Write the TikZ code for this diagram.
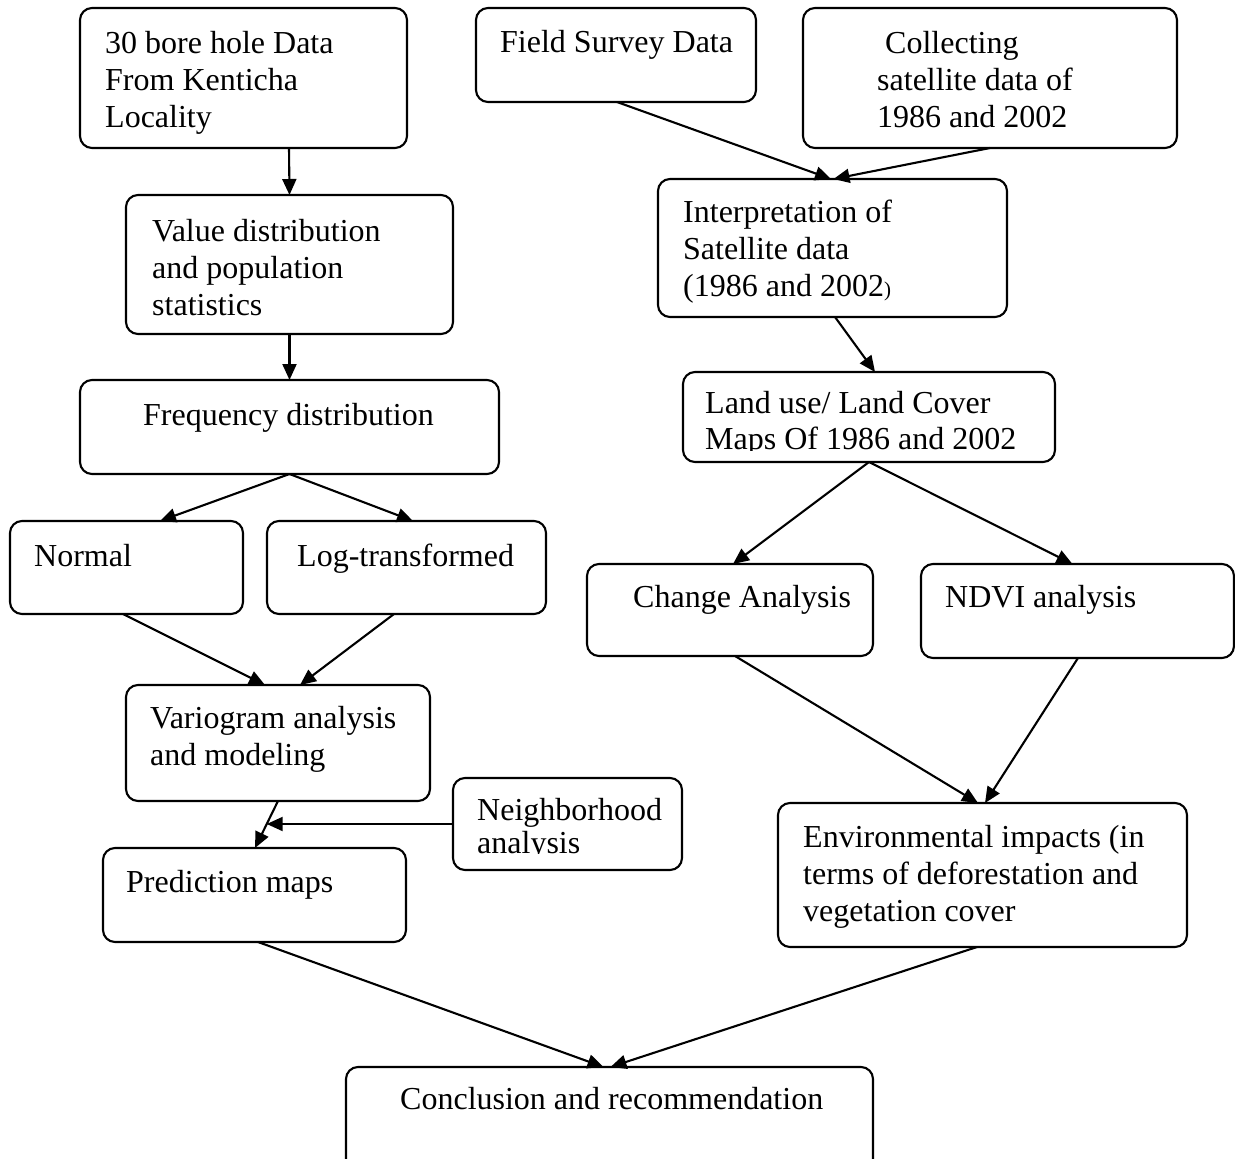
\documentclass[tikz,border=0pt]{standalone}
\usepackage{fontspec}
\setmainfont{Liberation Serif}
\usetikzlibrary{arrows.meta,calc}
\newcommand\tstrut{\rule{0pt}{24pt}}
\begin{document}
\begin{tikzpicture}[x=1pt,y=-1pt,
  flowbox/.style={draw, line width=2.1pt, rounded corners=12pt, inner sep=0pt, outer sep=0pt},
  txt/.style={anchor=north west, inner sep=0pt, align=left, font=\fontsize{32}{37}\selectfont},
  conn/.style={line width=2.1pt, -{Triangle[length=16pt,width=14pt]}}]
\path[use as bounding box] (0,0) rectangle (1235,1159);
\clip (0,0) rectangle (1235,1159);
% boxes
\node[flowbox, minimum width=327pt, minimum height=140pt] (b1) at (243.5,78) {};
\node[flowbox, minimum width=327pt, minimum height=139pt] (b2) at (289.5,264.5) {};
\node[flowbox, minimum width=419pt, minimum height=94pt] (b3) at (289.5,427) {};
\node[flowbox, minimum width=233pt, minimum height=93pt] (b4) at (126.5,567.5) {};
\node[flowbox, minimum width=279pt, minimum height=93pt] (b5) at (406.5,567.5) {};
\node[flowbox, minimum width=304pt, minimum height=116pt] (b6) at (278,743) {};
\node[flowbox, minimum width=229pt, minimum height=92pt] (b7) at (567.5,824) {};
\node[flowbox, minimum width=303pt, minimum height=94pt] (b8) at (254.5,895) {};
\node[flowbox, minimum width=280pt, minimum height=94pt] (b9) at (616,55) {};
\node[flowbox, minimum width=374pt, minimum height=140pt] (b10) at (990,78) {};
\node[flowbox, minimum width=349pt, minimum height=138pt] (b11) at (832.5,248) {};
\node[flowbox, minimum width=372pt, minimum height=90pt] (b12) at (869,417) {};
\node[flowbox, minimum width=286pt, minimum height=92pt] (b13) at (730,610) {};
\node[flowbox, minimum width=313pt, minimum height=94pt] (b14) at (1077.5,611) {};
\node[flowbox, minimum width=409pt, minimum height=144pt] (b15) at (982.5,875) {};
\node[flowbox, minimum width=527pt, minimum height=133pt] (b16) at (609.5,1133.5) {};
% texts
\node[txt] (t1) at (105,29) {\tstrut 30 bore hole Data\\From Kenticha\\Locality};
\node[txt] (t2) at (152,217) {\tstrut Value distribution\\and population\\statistics};
\node[txt] (t3) at (143,401) {\tstrut Frequency distribution};
\node[txt] (t4) at (34,542) {\tstrut Normal};
\node[txt] (t5) at (297,542) {\tstrut Log-transformed};
\node[txt] (t6) at (150,704) {\tstrut Variogram analysis\\and modeling};
\begin{scope}
\clip (453,770) rectangle (690,853.5);
\node[txt] (t7) at (477,796) {\tstrut Neighborhood\\[-4pt]analysis};
\end{scope}
\node[txt] (t8) at (126,868) {\tstrut Prediction maps};
\node[txt] (t9) at (500,28) {\tstrut Field Survey Data};
\node[txt] (t10) at (877,29) {\tstrut\hspace*{8pt}Collecting\\satellite data of\\1986 and 2002};
\node[txt] (t11) at (683,198) {\tstrut Interpretation of\\Satellite data\\(1986 and 2002{\fontsize{21}{21}\selectfont)}};
\begin{scope}
\clip (683,365) rectangle (1060,450);
\node[txt] (t12) at (705,389) {\tstrut Land use/ Land Cover\\[-1pt]Maps Of 1986 and 2002};
\end{scope}
\node[txt] (t13) at (633,583) {\tstrut Change Analysis};
\node[txt] (t14) at (945,583) {\tstrut NDVI analysis};
\node[txt] (t15) at (803,823) {\tstrut Environmental impacts (in\\terms of deforestation and\\vegetation cover};
\node[txt] (t16) at (400,1085) {\tstrut Conclusion and recommendation};
% connectors
\draw[conn] ([xshift=45.5pt]b1.south) -- (b2.north);
\draw[conn] (b2.south) -- (b3.north);
\draw[conn] (b3.south) -- ([xshift=33.5pt]b4.north);
\draw[conn] (b3.south) -- ([xshift=6.5pt]b5.north);
\draw[conn] ([xshift=-3.5pt]b4.south) -- ([xshift=-13pt]b6.north);
\draw[conn] ([xshift=-12.5pt]b5.south) -- ([xshift=22pt]b6.north);
\draw[conn] (b6.south) -- ([xshift=0.5pt]b8.north);
\coordinate (nb) at ($(b6.south)!0.49!([xshift=0.5pt]b8.north)$);
\draw[conn] (b7.west) -- (b7.west -| nb);
\draw[conn] ([xshift=3.5pt]b8.south) -- ([xshift=-6pt]b16.north);
\draw[conn] ([xshift=-5.5pt]b15.south) -- ([xshift=1pt]b16.north);
\draw[conn] ([xshift=1pt]b9.south) -- ([xshift=-1.5pt]b11.north);
\draw[conn] (b10.south) -- ([xshift=1pt]b11.north);
\draw[conn] ([xshift=2.5pt]b11.south) -- ([xshift=6pt]b12.north);
\draw[conn] (b12.south) -- ([xshift=3pt]b13.north);
\draw[conn] (b12.south) -- ([xshift=-5pt]b14.north);
\draw[conn] ([xshift=5pt]b13.south) -- ([xshift=-4.5pt]b15.north);
\draw[conn] ([xshift=0.5pt]b14.south) -- ([xshift=2.5pt]b15.north);
\end{tikzpicture}
\end{document}
